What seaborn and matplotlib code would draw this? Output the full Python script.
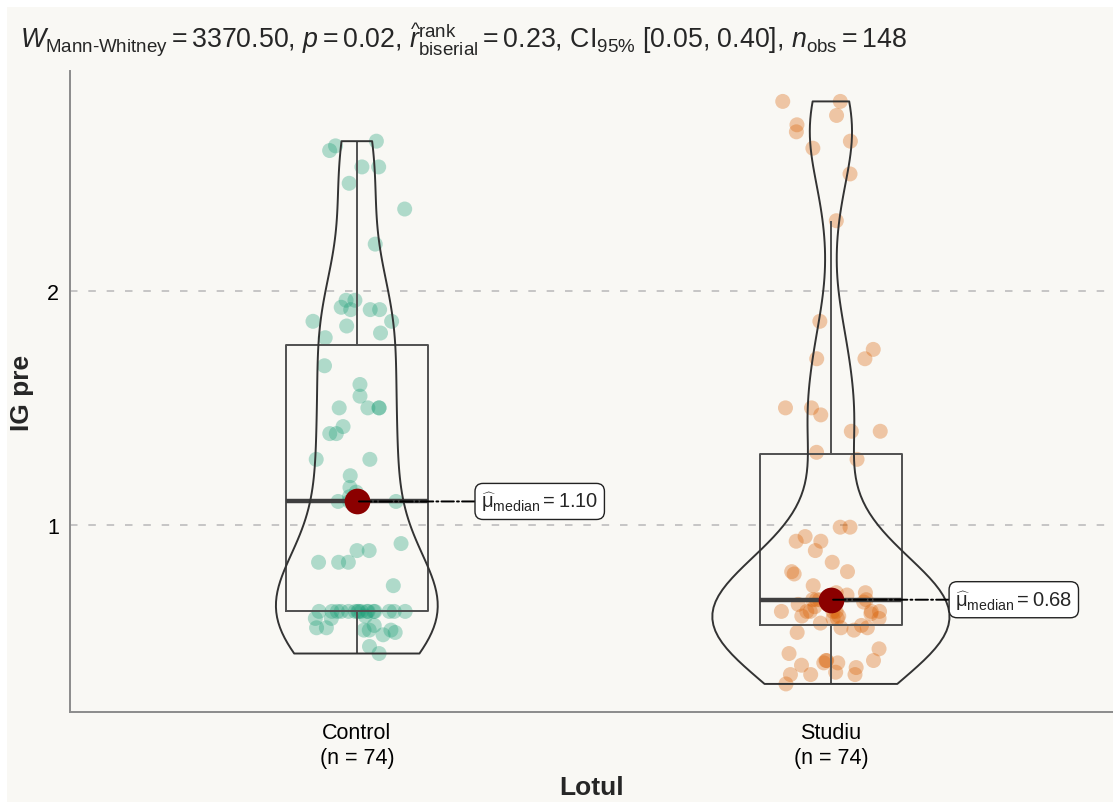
import numpy as np
import pandas as pd
import seaborn as sns
import matplotlib.pyplot as plt
from matplotlib.patches import Rectangle

# values
groups = ['Control', 'Studiu']
tick_labels = ['Control\n(n = 74)', 'Studiu\n(n = 74)']
palette = ['#1B9E77', '#D95F02']

control_vals = [
    2.64, 2.62, 2.60, 2.53, 2.53, 2.46, 2.35, 2.20, 1.96, 1.96,
    1.93, 1.92, 1.92, 1.87, 1.85, 1.82, 1.80, 1.68, 1.60, 1.55,
    1.92, 1.87,
    1.50, 1.50, 1.50, 1.50, 1.42, 1.39, 1.39, 1.28, 1.28, 1.21,
    1.16, 1.14, 1.12,
    1.10, 1.10, 1.10,
    0.92, 0.89, 0.89, 0.84, 0.84, 0.84, 0.74,
    0.63, 0.63, 0.63, 0.63, 0.63, 0.63, 0.63, 0.63, 0.63, 0.63,
    0.63, 0.63, 0.63, 0.63, 0.63, 0.63,
    0.61, 0.55, 0.57, 0.55, 0.60, 0.53, 0.60, 0.56, 0.55, 0.56,
    0.54, 0.48, 0.45,
]

studiu_vals = [
    2.81, 2.81, 2.75, 2.71, 2.68, 2.64, 2.61, 2.50, 2.30, 1.87,
    1.75, 1.71, 1.71, 1.50, 1.50, 1.47, 1.40, 1.40, 1.31, 1.28,
    0.99, 0.99, 0.93, 0.93, 0.95, 0.89, 0.84, 0.80, 0.80, 0.79,
    0.74, 0.70, 0.71, 0.71, 0.68, 0.68, 0.68, 0.68, 0.66, 0.67,
    0.65, 0.63, 0.61, 0.60, 0.63, 0.63, 0.63, 0.61, 0.63, 0.63,
    0.62, 0.60, 0.63, 0.60, 0.57, 0.58, 0.55, 0.54, 0.56, 0.56,
    0.47, 0.45, 0.41, 0.40, 0.42, 0.37, 0.36, 0.36, 0.42, 0.41,
    0.42, 0.39, 0.36, 0.32,
]

title = (r'$W_{\mathrm{Mann‐Whitney}} = 3370.50$, $p = 0.02$, '
         r'$\widehat{r}_{\mathrm{biserial}}^{\mathrm{rank}} = 0.23$, '
         r'CI$_{95\%}$ [0.05, 0.40], $n_{\mathrm{obs}} = 148$')

bg = '#F9F8F4'
W, H = 1113, 803

df = pd.DataFrame({
    'Lotul': ['Control'] * len(control_vals) + ['Studiu'] * len(studiu_vals),
    'IG pre': control_vals + studiu_vals,
})


def nrd0(kde):
    # R's default bandwidth (bw.nrd0), as used by ggplot's violins
    x = kde.dataset[0]
    sd = x.std(ddof=1)
    iqr = np.subtract(*np.percentile(x, [75, 25]))
    return 0.9 * min(sd, iqr / 1.34) * len(x) ** -0.2 / sd


sns.set_theme(style='white')
plt.rcParams['font.family'] = ['Liberation Sans', 'DejaVu Sans']
plt.rcParams['mathtext.fontset'] = 'custom'
plt.rcParams['mathtext.rm'] = 'Liberation Sans'
plt.rcParams['mathtext.it'] = 'Liberation Sans:italic'
plt.rcParams['mathtext.bf'] = 'Liberation Sans:bold'

fig = plt.figure(figsize=(W / 100, H / 100), dpi=100, facecolor='white')
fig.patches.append(Rectangle((7 / W, 0), 1, 1 - 8 / H, transform=fig.transFigure,
                             facecolor=bg, edgecolor='none', zorder=-10))
ax = fig.add_axes([70 / W, 1 - 713 / H, 1 - 70 / W, (713 - 72) / H])
ax.set_facecolor('none')

np.random.seed(123)
sns.stripplot(data=df, x='Lotul', y='IG pre', hue='Lotul', order=groups,
              palette=palette, jitter=0.105, size=10.8, alpha=0.33,
              linewidth=0, legend=False, ax=ax, zorder=2)

sns.boxplot(data=df, x='Lotul', y='IG pre', order=groups, width=0.3,
            fill=False, color='#505050', linewidth=1.4, showfliers=False,
            capprops={'linewidth': 0},
            medianprops={'color': '#3f3f3f', 'linewidth': 3.2},
            ax=ax, zorder=3)

sns.violinplot(data=df, x='Lotul', y='IG pre', order=groups, width=0.5,
               fill=False, inner=None, cut=0, density_norm='area',
               bw_method=nrd0, color='#333333', linewidth=1.4,
               ax=ax, zorder=4)

medians = df.groupby('Lotul')['IG pre'].median().reindex(groups)
ax.scatter(range(len(groups)), medians.values, s=18.5 ** 2,
           color='#8B0000', zorder=6, linewidths=0)
for i, m in enumerate(medians.values):
    ax.annotate(rf'$\widehat{{\mathrm{{μ}}}}_{{\mathrm{{median}}}} = {m:.2f}$',
                xy=(i, m), xytext=(i + 0.262, m), va='center', ha='left',
                fontsize=14.5,
                bbox=dict(boxstyle='round,pad=0.3,rounding_size=0.4',
                          fc='white', ec='#222222', lw=1.0),
                arrowprops=dict(arrowstyle='-', linestyle='-.',
                                color='black', lw=1.4,
                                shrinkA=0, shrinkB=0),
                zorder=7)

ax.set_xlim(-0.605, 1.595)
ax.set_ylim(0.20, 2.94)
ax.set_yticks([1, 2])
ax.set_yticklabels(['1', '2'])
ax.set_xticks(range(len(groups)))
ax.set_xticklabels(tick_labels, linespacing=1.25)
ax.tick_params(axis='both', length=0, labelsize=15.5, colors='black')
ax.tick_params(axis='y', pad=8)
ax.tick_params(axis='x', pad=7)

ax.yaxis.grid(True, linestyle=(0, (4.5, 6.5)), color='#BDBDBD', linewidth=1.2)
ax.xaxis.grid(False)
ax.set_axisbelow(True)

for side in ['top', 'right']:
    ax.spines[side].set_visible(False)
for side in ['left', 'bottom']:
    ax.spines[side].set_color('#8C8C8C')
    ax.spines[side].set_linewidth(1.4)

ax.set_xlabel('Lotul', fontsize=19, fontweight='bold', labelpad=5)
ax.set_ylabel('IG pre', fontsize=19, fontweight='bold', labelpad=9)

fig.text(20 / W, 1 - 40 / H, title, fontsize=19.3, ha='left', va='center')

fig.savefig('out.png', dpi=100, facecolor=fig.get_facecolor())
